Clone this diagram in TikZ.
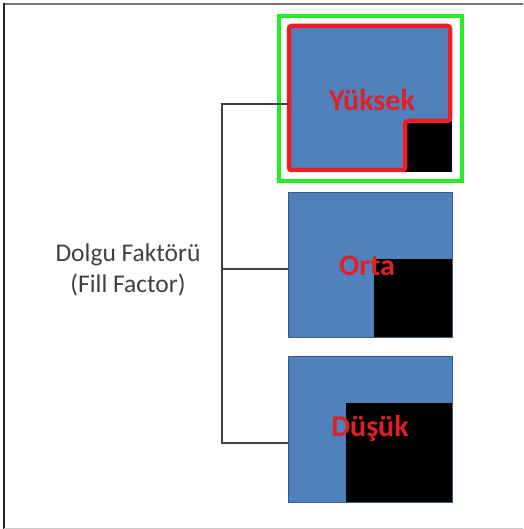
\documentclass[tikz,border=0pt]{standalone}
\usepackage{fontspec}
\setmainfont{Carlito}
\definecolor{boxblue}{HTML}{4F81BD}
\definecolor{boxedge}{HTML}{3A5A80}
\definecolor{redtxt}{HTML}{E31E24}
\definecolor{redline}{HTML}{EE1C25}
\definecolor{greenline}{HTML}{22EE22}
\definecolor{labelgray}{HTML}{404040}
\begin{document}
\begin{tikzpicture}[x=1pt,y=-1pt,
  sq/.style={draw=boxedge,line width=0.9pt,fill=boxblue,inner sep=0pt,anchor=north west},
  blk/.style={fill=black,inner sep=0pt,anchor=north west},
  boxtxt/.style={text=redtxt,font=\fontsize{30}{32}\selectfont\bfseries,inner sep=0pt},
  conn/.style={draw=black!75,line width=1.2pt},
  lbl/.style={text=labelgray,font=\fontsize{25.5}{31}\selectfont,align=center,inner sep=0pt}]
\useasboundingbox (0,0) rectangle (523,529);
% frame
\draw[gray!110,line width=1.4pt] (3,4) -- (523,4);
\draw[black!85,line width=1.6pt] (4,3.5) -- (4,529);
\draw[black!20,line width=1pt] (4,528) -- (523,528);
% high
\node[sq,draw=none,minimum width=162pt,minimum height=146pt] (hi) at (289,26) {};
\node[blk,minimum width=47pt,minimum height=51pt] (hiblk) at (405,121) {};
\draw[redline,line width=4.5pt,rounded corners=2.5pt] (289,26) -- (450,26) -- (450,121) -- (405,121) -- (405,170) -- (289,170) -- cycle;
\draw[greenline,line width=4.5pt] (279,16) rectangle (462,181);
\node[boxtxt] (hit) at (372,100) {Yüksek};
% mid
\node[sq,minimum width=164pt,minimum height=145pt] (mid) at (288,192) {};
\node[blk,minimum width=78pt,minimum height=78pt] (midblk) at (374,259) {};
\draw[boxedge,line width=0.9pt] (mid.north west) rectangle (mid.south east);
\node[boxtxt] (midt) at (367,266) {Orta};
% low
\node[sq,minimum width=164pt,minimum height=146pt] (lo) at (288,356) {};
\node[blk,minimum width=106pt,minimum height=99pt] (loblk) at (346,403) {};
\draw[boxedge,line width=0.9pt] (lo.north west) rectangle (lo.south east);
\node[boxtxt] (lot) at (370,428) {Düşük};
% label
\node[lbl] (ff) at (128,270) {Dolgu Faktörü\\(Fill Factor)};
% connectors
\coordinate (jt) at (222,104);
\coordinate (jm) at (222,269);
\coordinate (jb) at (222,443);
\draw[conn] (jt -| hi.west) -- (jt) -- (jb) -- (jb -| lo.west);
\draw[conn] (jm) -- (jm -| mid.west);
\end{tikzpicture}
\end{document}
